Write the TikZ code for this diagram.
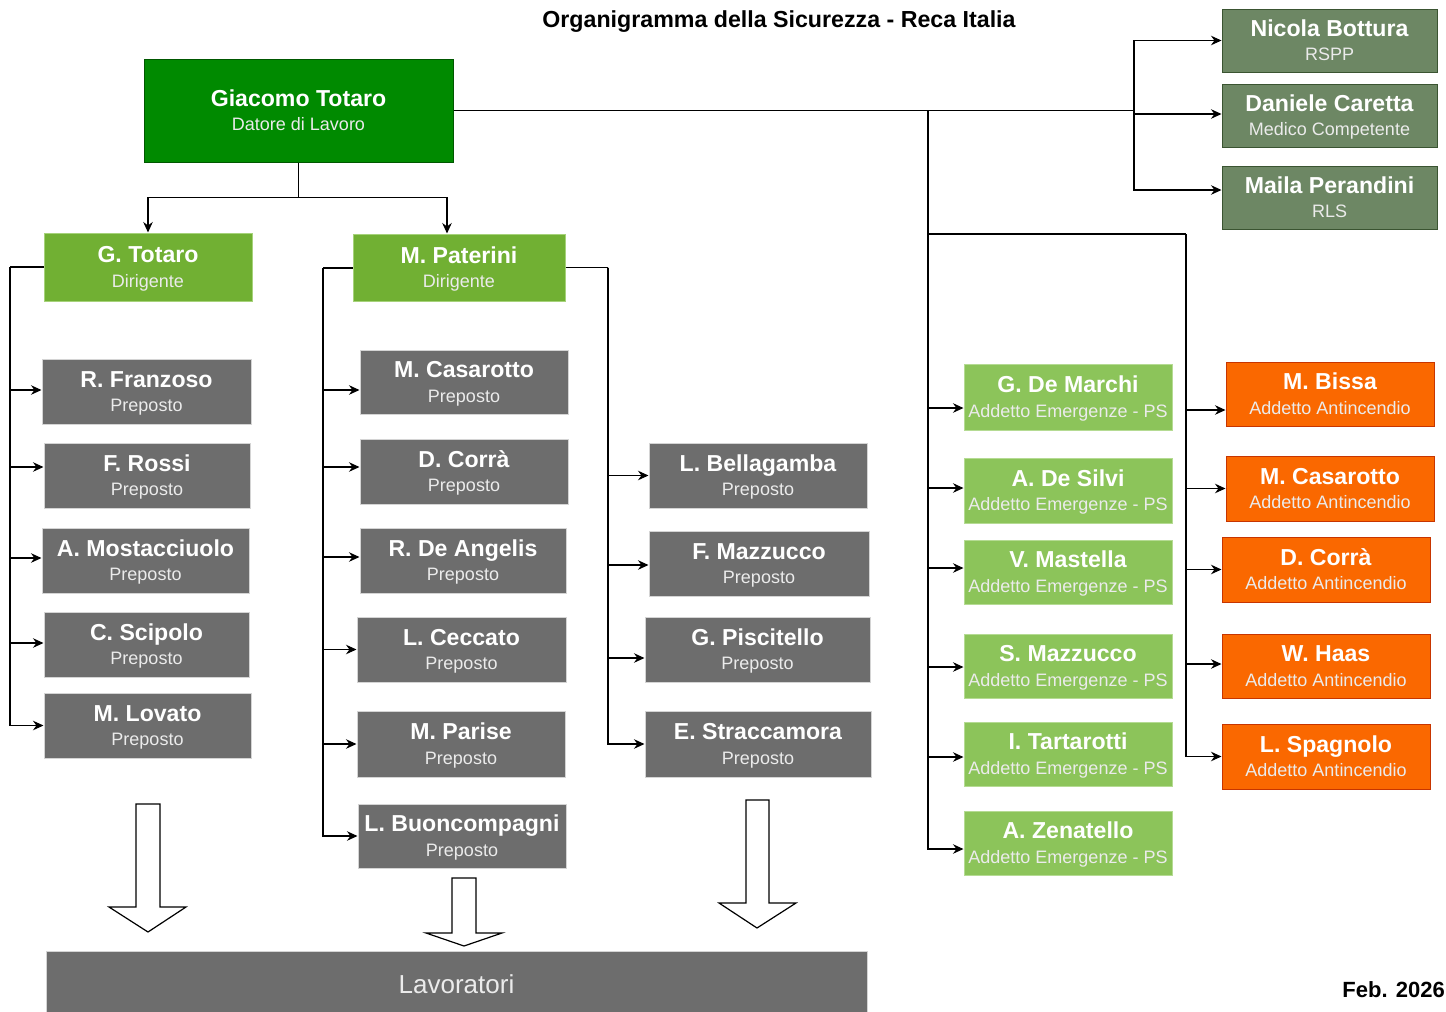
\documentclass[tikz,border=0pt]{standalone}
\usepackage{fontspec}
\setmainfont{Liberation Sans}
\usetikzlibrary{fit,arrows.meta}
\definecolor{dkg}{HTML}{008A00}
\definecolor{dkgS}{HTML}{005700}
\definecolor{dirg}{HTML}{71B033}
\definecolor{dirgS}{HTML}{A6D27A}
\definecolor{addg}{HTML}{8CC45A}
\definecolor{addgS}{HTML}{B5DB93}
\definecolor{grb}{HTML}{6D6D6D}
\definecolor{grbS}{HTML}{D4D4D4}
\definecolor{ggr}{HTML}{6D8764}
\definecolor{ggrS}{HTML}{3A5431}
\definecolor{org}{HTML}{FA6800}
\definecolor{orgS}{HTML}{C73500}
\tikzset{
 box/.style={draw, line width=1pt, inner sep=0pt},
 bossbox/.style={box, fill=dkg, draw=dkgS},
 dirbox/.style={box, fill=dirg, draw=dirgS},
 addbox/.style={box, fill=addg, draw=addgS},
 prebox/.style={box, fill=grb, draw=grbS},
 ggbox/.style={box, fill=ggr, draw=ggrS},
 orbox/.style={box, fill=org, draw=orgS},
 nm/.style={text=white, font=\fontsize{23.1}{27}\selectfont\bfseries, inner sep=0pt},
 sb/.style={text=white!92!black, font=\fontsize{18}{22}\selectfont, inner sep=0pt},
 ln/.style={draw=black, line width=1.2pt},
 arr/.style={ln, -{Stealth[length=10.5pt,width=9.5pt]}},
 blk/.style={draw=black, fill=white, line width=1.2pt, line join=miter},
}
\newcommand\ob[8]{%
 \node[#1, fit={(#3,#4) (#5,#6)}] (#2) {};
 \node[nm, anchor=base] (#2n) at ([yshift=4.5pt]#2.center) {#7};
 \node[sb, anchor=base] (#2s) at ([yshift=-20pt]#2.center) {#8};
}
\newcommand\cn[3]{\draw[arr] (#1) |- ([yshift=#3pt]#2.west);}
\begin{document}
\begin{tikzpicture}[x=1pt,y=-1pt]
\useasboundingbox (0,0) rectangle (1446,1012);
\node[font=\fontsize{23.2}{27}\selectfont\bfseries, anchor=base, inner sep=0pt] (title) at (779,27.5) {Organigramma della Sicurezza - Reca Italia};
\node[font=\fontsize{22}{26}\selectfont\bfseries, anchor=base east, inner sep=0pt] (date) at (1445,997) {Feb. 2026};
% boxes
\ob{bossbox}{giac}{144}{59}{453}{162}{Giacomo Totaro}{Datore di Lavoro}
\ob{dirbox}{gtot}{44}{233}{252}{301}{G. Totaro}{Dirigente}
\ob{dirbox}{mpat}{353}{234}{565}{301}{M. Paterini}{Dirigente}
\ob{ggbox}{nico}{1222}{9}{1437}{72}{Nicola Bottura}{RSPP}
\ob{ggbox}{dani}{1222}{84}{1437}{147}{Daniele Caretta}{Medico Competente}
\ob{ggbox}{maila}{1222}{166}{1437}{229}{Maila Perandini}{RLS}
% left column
\ob{prebox}{franz}{42}{359}{251}{424}{R. Franzoso}{Preposto}
\ob{prebox}{rossi}{44}{443}{250}{508}{F. Rossi}{Preposto}
\ob{prebox}{most}{42}{528}{249}{593}{A. Mostacciuolo}{Preposto}
\ob{prebox}{scip}{44}{612}{249}{677}{C. Scipolo}{Preposto}
\ob{prebox}{lov}{44}{693}{251}{758}{M. Lovato}{Preposto}
% middle column
\ob{prebox}{mcas}{360}{350}{568}{414}{M. Casarotto}{Preposto}
\ob{prebox}{dcor}{360}{439}{568}{504}{D. Corrà}{Preposto}
\ob{prebox}{rdea}{360}{528}{566}{593}{R. De Angelis}{Preposto}
\ob{prebox}{lcec}{357}{617}{566}{682}{L. Ceccato}{Preposto}
\ob{prebox}{mpar}{357}{711}{565}{777}{M. Parise}{Preposto}
\ob{prebox}{lbuon}{358}{804}{566}{868}{L. Buoncompagni}{Preposto}
% right column
\ob{prebox}{lbel}{649}{443}{867}{508}{L. Bellagamba}{Preposto}
\ob{prebox}{fmaz}{649}{531}{869}{596}{F. Mazzucco}{Preposto}
\ob{prebox}{gpis}{645}{617}{870}{682}{G. Piscitello}{Preposto}
\ob{prebox}{estr}{645}{711}{871}{777}{E. Straccamora}{Preposto}
% emergency
\ob{addbox}{gdm}{964}{364}{1172}{430}{G. De Marchi}{Addetto Emergenze - PS}
\ob{addbox}{ads}{964}{458}{1172}{523}{A. De Silvi}{Addetto Emergenze - PS}
\ob{addbox}{vmas}{964}{540}{1172}{604}{V. Mastella}{Addetto Emergenze - PS}
\ob{addbox}{smaz}{964}{634}{1172}{698}{S. Mazzucco}{Addetto Emergenze - PS}
\ob{addbox}{itar}{964}{722}{1172}{786}{I. Tartarotti}{Addetto Emergenze - PS}
\ob{addbox}{azen}{964}{811}{1172}{875}{A. Zenatello}{Addetto Emergenze - PS}
% fire
\ob{orbox}{mbis}{1226}{362}{1434}{426}{M. Bissa}{Addetto Antincendio}
\ob{orbox}{mcast}{1226}{456}{1434}{521}{M. Casarotto}{Addetto Antincendio}
\ob{orbox}{dcort}{1222}{537}{1430}{602}{D. Corrà}{Addetto Antincendio}
\ob{orbox}{whaas}{1222}{634}{1430}{698}{W. Haas}{Addetto Antincendio}
\ob{orbox}{lspa}{1222}{724}{1430}{789}{L. Spagnolo}{Addetto Antincendio}
% workers
\node[box, fill=grb, draw=grbS, fit={(46,951) (867,1013)}] (lav) {};
\node[text=white!92!black, font=\fontsize{26}{30}\selectfont, anchor=base, inner sep=0pt] (lavt) at ([yshift=-11.5pt]lav.center) {Lavoratori};
% connectors top
\draw[arr] (giac.south) -- ++(0,35) -| (gtot.north);
\draw[arr] (giac.south) -- ++(0,35) -| ([xshift=-12pt]mpat.north);
\coordinate (j1) at (1134,110.5);
\coordinate (j2) at (928,110.5);
\coordinate (j3) at (928,234);
\coordinate (j4) at (1186,234);
\draw[ln] (giac.east) -- (j1);
\cn{j1}{nico}{0}
\cn{j1}{dani}{1.5}
\cn{j1}{maila}{7.5}
\draw[ln] (j3) -- (j4);
\cn{j2}{gdm}{-11}
\cn{j2}{ads}{2.5}
\cn{j2}{vmas}{4}
\cn{j2}{smaz}{-1}
\cn{j2}{itar}{-3}
\cn{j2}{azen}{-6}
\cn{j4}{mbis}{-16}
\cn{j4}{mcast}{0}
\cn{j4}{dcort}{0}
\cn{j4}{whaas}{2}
\cn{j4}{lspa}{0}
% left trunk
\coordinate (lt) at (10,267);
\draw[ln] (gtot.west) -- (lt);
\cn{lt}{franz}{1.5}
\cn{lt}{rossi}{8.5}
\cn{lt}{most}{2.5}
\cn{lt}{scip}{1.5}
\cn{lt}{lov}{0}
% middle trunk
\coordinate (mt) at (323,268);
\draw[ln] ([yshift=-0.5pt]mpat.west) -- (mt);
\cn{mt}{mcas}{-8}
\cn{mt}{dcor}{4.5}
\cn{mt}{rdea}{3.5}
\cn{mt}{lcec}{0}
\cn{mt}{mpar}{0}
\cn{mt}{lbuon}{0}
% right trunk
\coordinate (rt) at (608,267.5);
\draw[ln] (mpat.east) -- (rt);
\cn{rt}{lbel}{0}
\cn{rt}{fmaz}{-1.5}
\cn{rt}{gpis}{-8.5}
\cn{rt}{estr}{0}
% block arrows
\draw[blk] (136,804) -- (160,804) -- (160,907) -- (186,907) -- (148,932) -- (109,907) -- (136,907) -- cycle;
\draw[blk] (452,878) -- (476,878) -- (476,933) -- (502,933) -- (464,946) -- (426,933) -- (452,933) -- cycle;
\draw[blk] (746,800) -- (769,800) -- (769,903) -- (796,903) -- (757,928) -- (719,903) -- (746,903) -- cycle;
\end{tikzpicture}
\end{document}
